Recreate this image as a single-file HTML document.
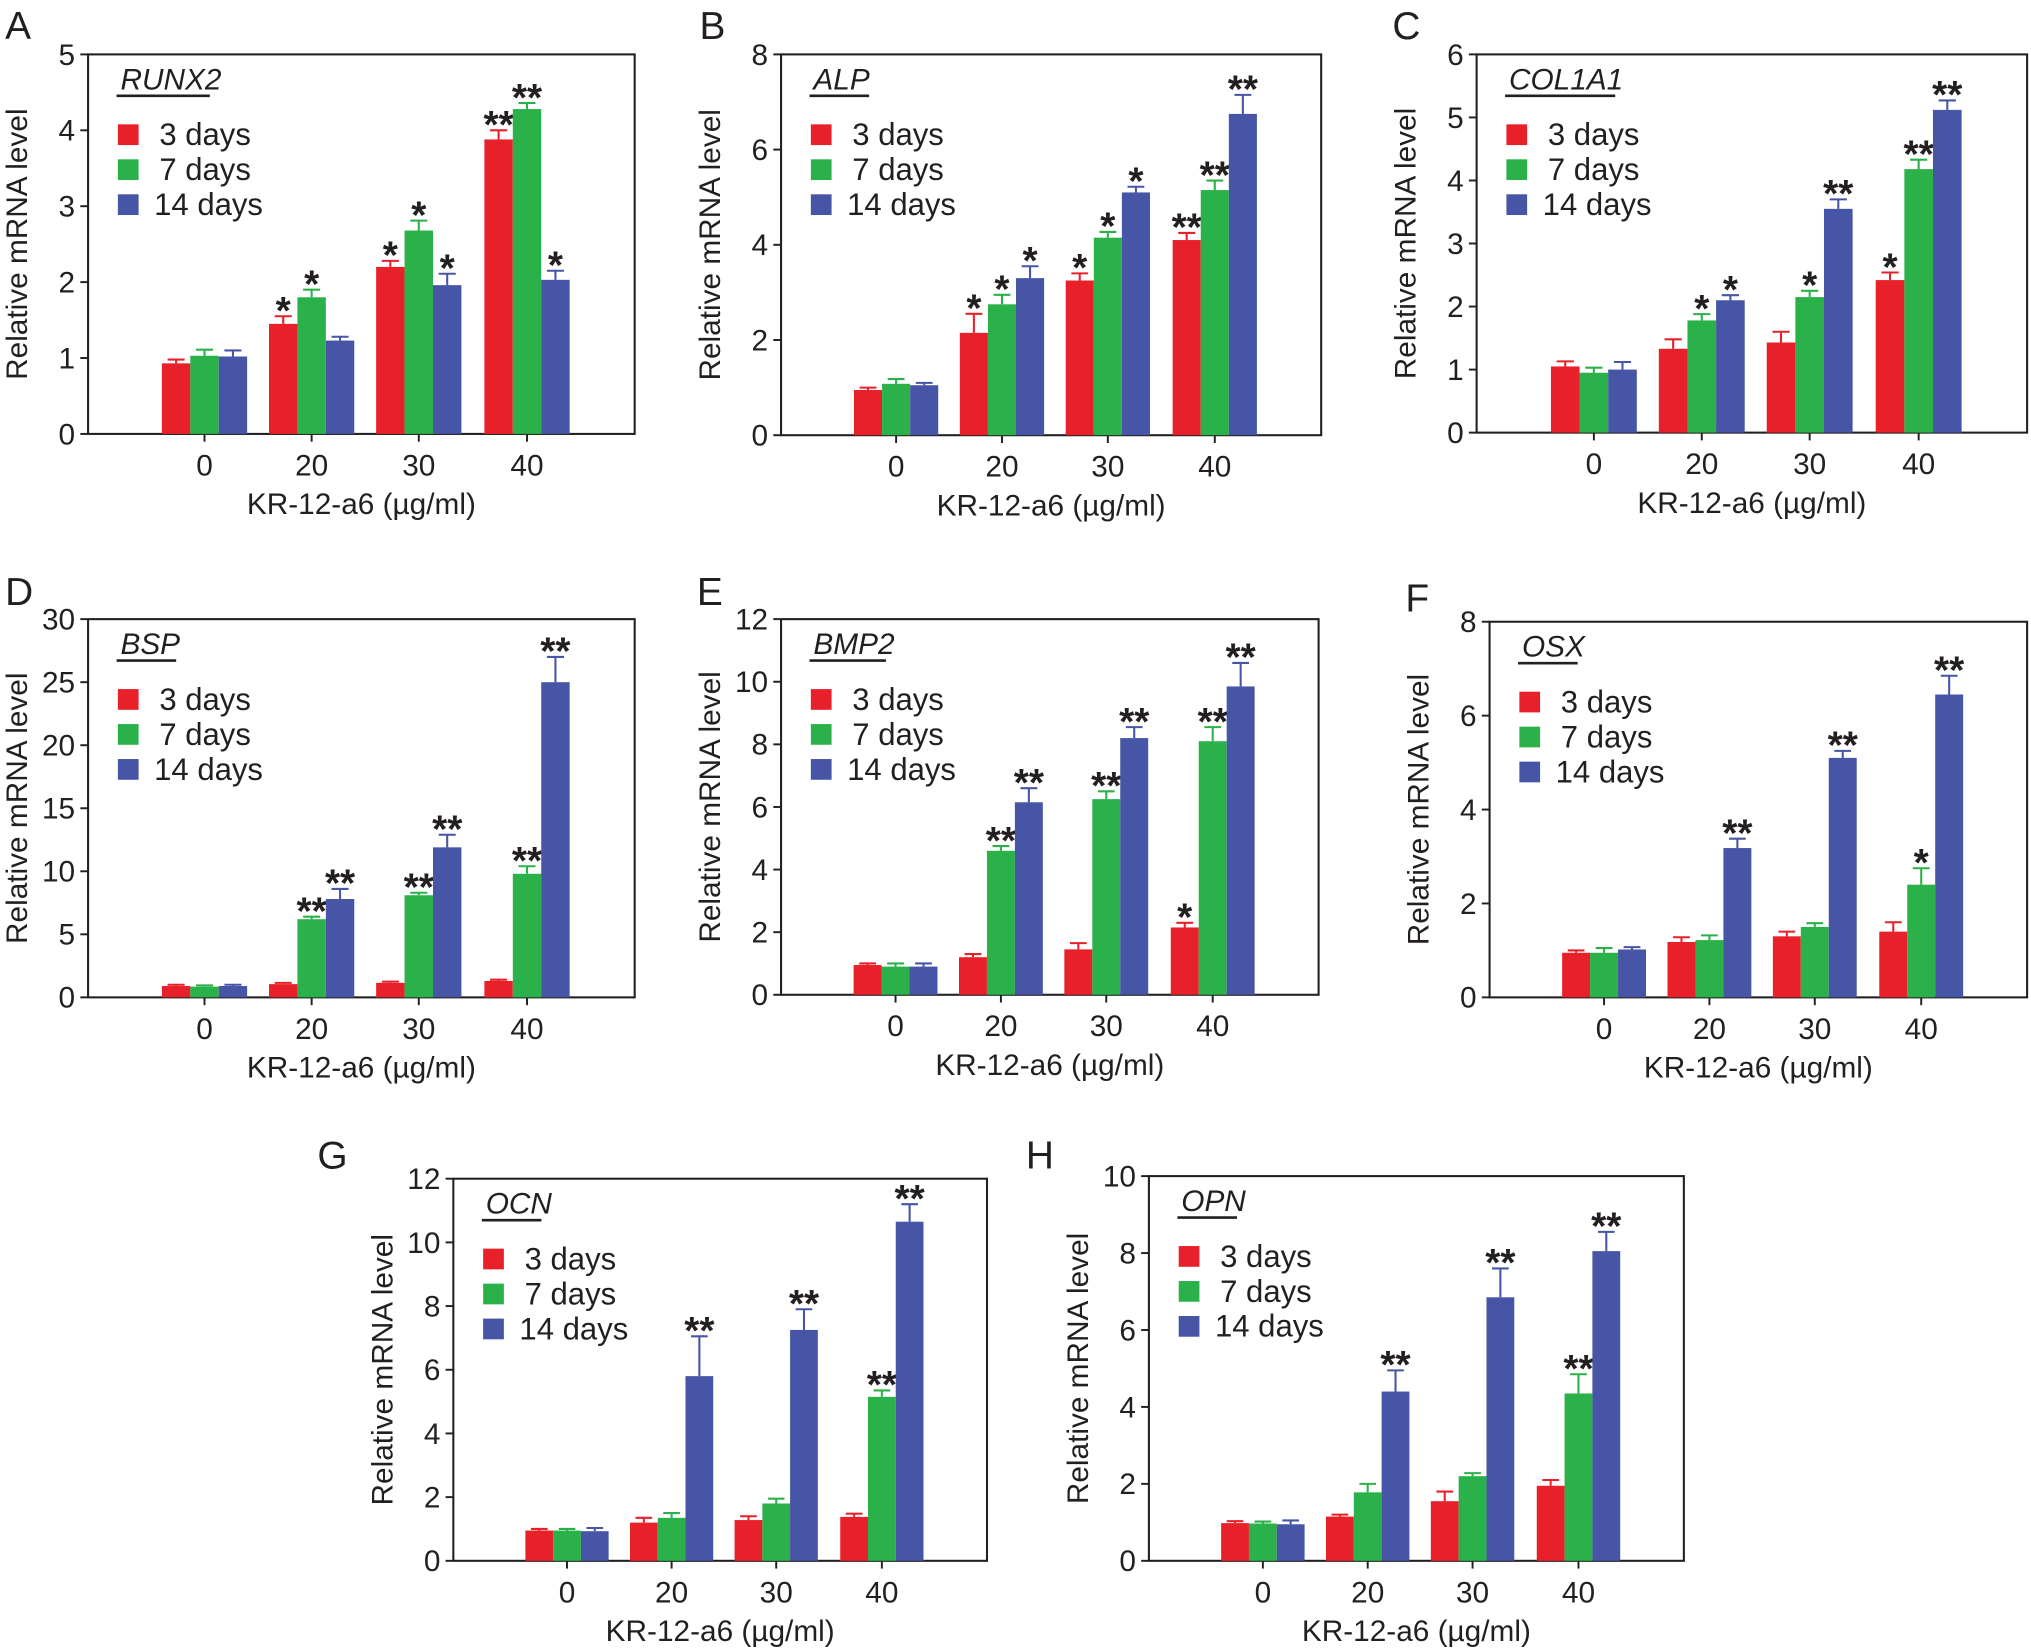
<!DOCTYPE html>
<html><head><meta charset="utf-8"><style>
html,body{margin:0;padding:0;background:#fff}
svg{display:block}
text{font-family:"Liberation Sans",Arial,sans-serif;fill:#231f20}
</style></head><body>
<svg id="fig" xmlns="http://www.w3.org/2000/svg" width="2031" height="1652" viewBox="0 0 1568 1275.4"></svg>
<script>
const groups = ['0','20','30','40'];
const seriesNames = ['3 days','7 days','14 days'];
const colors = ['#e8202a','#2bb14a','#4655a5'];

// Panel A RUNX2
const aVals3 = [0.93,1.45,2.2,3.88], aErr3 = [0.05,0.1,0.08,0.12], aStar3 = ['','*','*','**'];
const aVals7 = [1.03,1.8,2.68,4.28], aErr7 = [0.08,0.1,0.13,0.08], aStar7 = ['','*','*','**'];
const aVals14 = [1.02,1.23,1.96,2.03], aErr14 = [0.08,0.05,0.15,0.12], aStar14 = ['','','*','*'];
const aTicks = [0,1,2,3,4,5];
// Panel B ALP
const bVals3 = [0.95,2.15,3.25,4.1], bErr3 = [0.05,0.4,0.15,0.15], bStar3 = ['','*','*','**'];
const bVals7 = [1.08,2.75,4.15,5.15], bErr7 = [0.1,0.2,0.12,0.2], bStar7 = ['','*','*','**'];
const bVals14 = [1.05,3.3,5.1,6.75], bErr14 = [0.05,0.25,0.12,0.4], bStar14 = ['','*','*','**'];
const bTicks = [0,2,4,6,8];
// Panel C COL1A1
const cVals3 = [1.05,1.33,1.43,2.42], cErr3 = [0.08,0.15,0.17,0.12], cStar3 = ['','','','*'];
const cVals7 = [0.95,1.78,2.15,4.18], cErr7 = [0.08,0.1,0.1,0.15], cStar7 = ['','*','*','**'];
const cVals14 = [1.0,2.1,3.55,5.12], cErr14 = [0.12,0.08,0.15,0.15], cStar14 = ['','*','**','**'];
const cTicks = [0,1,2,3,4,5,6];
// Panel D BSP
const dVals3 = [0.9,1.05,1.15,1.3], dErr3 = [0.1,0.1,0.1,0.1], dStar3 = ['','','',''];
const dVals7 = [0.85,6.2,8.1,9.8], dErr7 = [0.1,0.2,0.2,0.6], dStar7 = ['','**','**','**'];
const dVals14 = [0.9,7.8,11.9,25], dErr14 = [0.1,0.8,1.0,2.0], dStar14 = ['','**','**','**'];
const dTicks = [0,5,10,15,20,25,30];
// Panel E BMP2
const eVals3 = [0.95,1.2,1.45,2.15], eErr3 = [0.05,0.1,0.2,0.15], eStar3 = ['','','','*'];
const eVals7 = [0.9,4.6,6.25,8.1], eErr7 = [0.1,0.15,0.25,0.45], eStar7 = ['','**','**','**'];
const eVals14 = [0.9,6.15,8.2,9.85], eErr14 = [0.1,0.45,0.35,0.75], eStar14 = ['','**','**','**'];
const eTicks = [0,2,4,6,8,10,12];
// Panel F OSX
const fVals3 = [0.95,1.18,1.3,1.4], fErr3 = [0.05,0.1,0.1,0.2], fStar3 = ['','','',''];
const fVals7 = [0.95,1.22,1.5,2.4], fErr7 = [0.1,0.1,0.08,0.35], fStar7 = ['','','','*'];
const fVals14 = [1.02,3.18,5.1,6.45], fErr14 = [0.05,0.2,0.15,0.4], fStar14 = ['','**','**','**'];
const fTicks = [0,2,4,6,8];
// Panel G OCN
const gVals3 = [0.95,1.2,1.28,1.38], gErr3 = [0.05,0.15,0.12,0.1], gStar3 = ['','','',''];
const gVals7 = [0.95,1.35,1.8,5.15], gErr7 = [0.05,0.15,0.15,0.2], gStar7 = ['','','','**'];
const gVals14 = [0.93,5.8,7.25,10.65], gErr14 = [0.1,1.25,0.65,0.55], gStar14 = ['','**','**','**'];
const gTicks = [0,2,4,6,8,10,12];
// Panel H OPN
const hVals3 = [0.98,1.15,1.55,1.95], hErr3 = [0.05,0.05,0.25,0.15], hStar3 = ['','','',''];
const hVals7 = [0.97,1.78,2.2,4.35], hErr7 = [0.05,0.22,0.08,0.5], hStar7 = ['','','','**'];
const hVals14 = [0.95,4.4,6.85,8.05], hErr14 = [0.1,0.55,0.75,0.5], hStar14 = ['','**','**','**'];
const hTicks = [0,2,4,6,8,10];

const NS = 'http://www.w3.org/2000/svg';
const svg = document.getElementById('fig');
function el(tag, attrs, parent, txt){
  const e = document.createElementNS(NS, tag);
  for (const k in attrs) e.setAttribute(k, attrs[k]);
  if (txt !== undefined) e.textContent = txt;
  (parent||svg).appendChild(e);
  return e;
}
const centers = [0.213,0.409,0.605,0.803];

function panel(p){
  const g = el('g', {});
  
  
  const W = p.x1 - p.x0, H = p.yb - p.yt;
  const ymax = p.ticks[p.ticks.length-1];
  const yS = v => p.yb - v / ymax * H;
  const xS = i => p.x0 + centers[i] * W;
  const bw = 0.052 * W;
  const lt = el('text', {x:p.lx, y:p.ly, 'font-size':30}, g, p.letter);
  
  
  const box = el('rect', {x:p.x0, y:p.yt, width:W, height:H, fill:'none', stroke:'#231f20', 'stroke-width':1.6}, g);
  
  
  p.ticks.forEach(t => {
    el('line', {x1:p.x0-6, x2:p.x0, y1:yS(t), y2:yS(t), stroke:'#231f20', 'stroke-width':1.5}, g);
    const tl = el('text', {x:p.x0-10, y:yS(t)+8, 'font-size':23, 'text-anchor':'end'}, g, t);
    
    
  });
  groups.forEach((gname, i) => {
    el('line', {x1:xS(i), x2:xS(i), y1:p.yb, y2:p.yb+6, stroke:'#231f20', 'stroke-width':1.5}, g);
    const tl = el('text', {x:xS(i), y:p.yb+32, 'font-size':23, 'text-anchor':'middle'}, g, gname);
    
    
  });
  const yl = el('text', {x:0, y:0, 'font-size':23, 'text-anchor':'middle', transform:`translate(${p.x0-47},${(p.yt+p.yb)/2}) rotate(-90)`}, g, 'Relative mRNA level');
  
  
  const xl = el('text', {x:p.x0+W*0.5, y:p.yb+62, 'font-size':23, 'text-anchor':'middle'}, g, 'KR-12-a6 (\u00b5g/ml)');
  
  
  p.series.forEach((s, si) => {
    s.vals.forEach((v, i) => {
      const x = xS(i) + (si-1)*bw - bw/2;
      const top = yS(v);
      const et = yS(v + s.err[i]);
      const cx = x + bw/2;
      el('line', {x1:cx, x2:cx, y1:top, y2:et, stroke:colors[si], 'stroke-width':1.6}, g);
      el('line', {x1:cx-bw*0.3, x2:cx+bw*0.3, y1:et, y2:et, stroke:colors[si], 'stroke-width':1.6}, g);
      const r = el('rect', {x:x, y:top, width:bw, height:p.yb-top, fill:colors[si]}, g);
      
      
      if (s.stars[i]) {
        const st = el('text', {x:cx, y:et+6, 'font-size':30, 'font-weight':'bold', 'text-anchor':'middle'}, g, s.stars[i]);
        
        
      }
    });
  });
  const tx = p.x0 + 25;
  const tt = el('text', {x:tx, y:p.yt+27, 'font-size':23, 'font-style':'italic'}, g, p.gene);
  
  
  const tw = p.gene.length * 13 + 4;
  el('line', {x1:tx-3, x2:tx+tw, y1:p.yt+32, y2:p.yt+32, stroke:'#231f20', 'stroke-width':2}, g);
  seriesNames.forEach((n, si) => {
    const yy = p.yt + 62 + si*27;
    const lg = el('g', {}, g);
    
    
    el('rect', {x:tx-2, y:yy-8, width:16, height:16, fill:colors[si]}, lg);
    el('text', {x:tx+(si==2?26:30), y:yy+8, 'font-size':24}, lg, n);
  });
}

function mk(letter, gene, x0, x1, yt, yb, lx, ly, ticks, v3,e3,s3, v7,e7,s7, v14,e14,s14){
  panel({letter, gene, x0, x1, yt, yb, lx, ly, ticks, series:[
    {vals:v3, err:e3, stars:s3},{vals:v7, err:e7, stars:s7},{vals:v14, err:e14, stars:s14}]});
}
mk('A','RUNX2',68,490,42,335,4,30,aTicks,aVals3,aErr3,aStar3,aVals7,aErr7,aStar7,aVals14,aErr14,aStar14);
mk('B','ALP',603,1020,42,336,540,30,bTicks,bVals3,bErr3,bStar3,bVals7,bErr7,bStar7,bVals14,bErr14,bStar14);
mk('C','COL1A1',1140,1565,42,334,1075,30,cTicks,cVals3,cErr3,cStar3,cVals7,cErr7,cStar7,cVals14,cErr14,cStar14);
mk('D','BSP',68,490,478,770,4,467,dTicks,dVals3,dErr3,dStar3,dVals7,dErr7,dStar7,dVals14,dErr14,dStar14);
mk('E','BMP2',603,1018,478,768,538,467,eTicks,eVals3,eErr3,eStar3,eVals7,eErr7,eStar7,eVals14,eErr14,eStar14);
mk('F','OSX',1150,1565,480,770,1085,472,fTicks,fVals3,fErr3,fStar3,fVals7,fErr7,fStar7,fVals14,fErr14,fStar14);
mk('G','OCN',350,762,910,1205,245,902,gTicks,gVals3,gErr3,gStar3,gVals7,gErr7,gStar7,gVals14,gErr14,gStar14);
mk('H','OPN',887,1300,908,1205,792,902,hTicks,hVals3,hErr3,hStar3,hVals7,hErr7,hStar7,hVals14,hErr14,hStar14);
</script>
</body></html>
